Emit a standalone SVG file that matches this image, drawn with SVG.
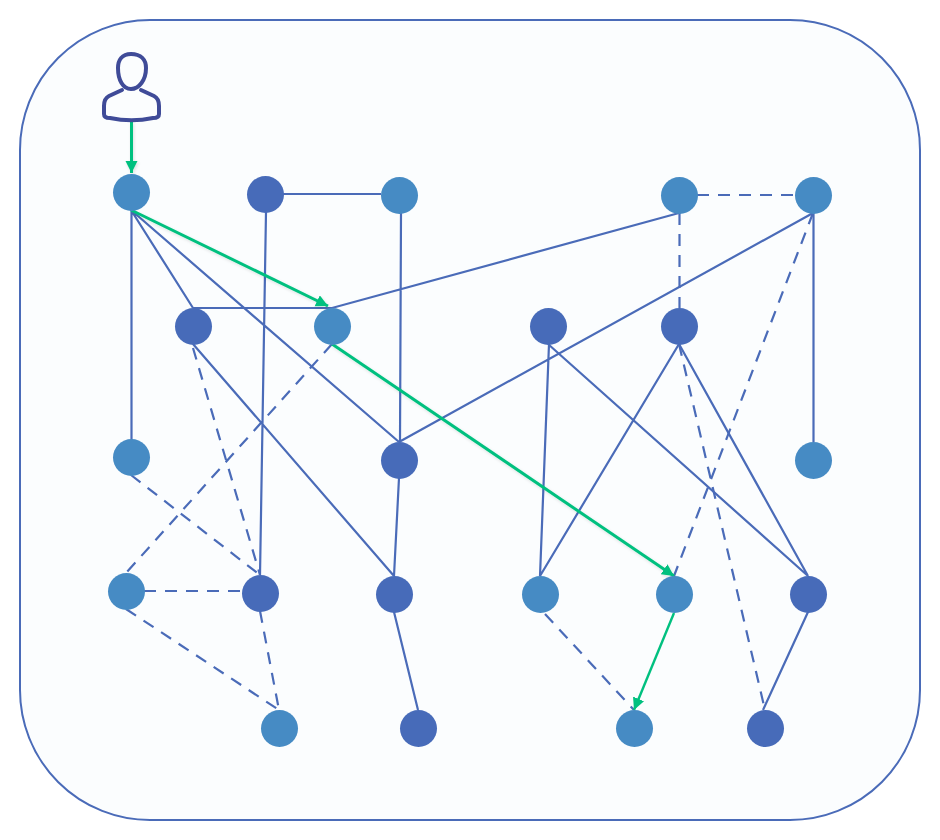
<svg xmlns="http://www.w3.org/2000/svg" width="940" height="840" viewBox="0 0 940 840">
<style>
.l{fill:#468bc4}.d{fill:#476bb9}
.s,.h,.g,.t{fill:none}
.s,.h{stroke:#4a6bb8;stroke-width:2.2}
.h{stroke-dasharray:12 9}
.g{stroke:#00c07f;stroke-width:3}
</style>
<defs>
<marker id="a" markerUnits="userSpaceOnUse" markerWidth="14" markerHeight="14" refX="12" refY="6" orient="auto"><path d="M0 0L12 6L0 12Z" fill="#00c07f"/></marker>
<filter id="sh" filterUnits="userSpaceOnUse" x="0" y="0" width="940" height="840"><feDropShadow dx="1" dy="1.500" stdDeviation="1.500" flood-color="#000" flood-opacity="0.120"/></filter>
</defs>
<rect id="frame" x="20" y="20" width="900" height="800" rx="130" ry="130" fill="#fbfdfe" stroke="#4a6bb8" stroke-width="2"/>
<g id="connectors">
<path class="s" d="M131.500 210V440M131 210L193 308M131 210L399 442M266 212L260 575M283 194H381M401 213L400 442M193 308H332L679 213M813 213L399 442M813.500 213V442M193 344L394 576M399 478L394 576M394 612L418 710M549 344L540 576M548 344L808 576M679 344L540 576M679 344L808 576M808 612L763 710"/>
<path class="h" d="M697 195H795"/>
<path class="h" d="M679.500 213V308"/>
<path class="h" d="M813 213L674 576"/>
<path class="h" d="M679 344L765 710"/>
<path class="h" d="M332 344L126 573"/>
<path class="h" d="M193 348L260 575"/>
<path class="h" d="M131 475L260 575"/>
<path class="h" d="M144 591H242"/>
<path class="h" d="M126 609L279 710"/>
<path class="h" d="M260 611L279 710"/>
<path class="h" d="M545 614L634 710"/>
<path class="g" filter="url(#sh)" marker-end="url(#a)" d="M131.500 122V173"/>
<path class="g" filter="url(#sh)" marker-end="url(#a)" d="M131 210L328 306"/>
<path class="g" filter="url(#sh)" marker-end="url(#a)" d="M332 344L674 576"/>
<path class="g" style="stroke-width:2.400" marker-end="url(#a)" d="M674 613L634 710"/>
</g>
<g id="user" fill="none" stroke="#3f4b98" stroke-width="4" stroke-linecap="round" stroke-linejoin="round">
<path d="M131 54C122 54 118 60 118 68C118 80 123 89 131 89C139 89 146 80 146 68C146 60 141 54 131 54Z"/>
<path d="M122 90L109 96C105 98 104 101 104 106V114C104 117 106 118 110 118C124 121 139 121 153 118C157 118 159 117 159 114V106C159 101 158 98 154 96L141 90"/>
</g>
<g id="n1"><circle class="l" cx="131.500" cy="192.500" r="18.500"/></g>
<g id="n2"><circle class="d" cx="265.500" cy="194.500" r="18.500"/></g>
<g id="n3"><circle class="l" cx="399.500" cy="195.500" r="18.500"/></g>
<g id="n4"><circle class="l" cx="679.500" cy="195.500" r="18.500"/></g>
<g id="n5"><circle class="l" cx="813.500" cy="195.500" r="18.500"/></g>
<g id="n6"><circle class="d" cx="193.500" cy="326.500" r="18.500"/></g>
<g id="n7"><circle class="l" cx="332.500" cy="326.500" r="18.500"/></g>
<g id="n8"><circle class="d" cx="548.500" cy="326.500" r="18.500"/></g>
<g id="n9"><circle class="d" cx="679.500" cy="326.500" r="18.500"/></g>
<g id="n10"><circle class="l" cx="131.500" cy="457.500" r="18.500"/></g>
<g id="n11"><circle class="d" cx="399.500" cy="460.500" r="18.500"/></g>
<g id="n12"><circle class="l" cx="813.500" cy="460.500" r="18.500"/></g>
<g id="n13"><circle class="l" cx="126.500" cy="591.500" r="18.500"/></g>
<g id="n14"><circle class="d" cx="260.500" cy="593.500" r="18.500"/></g>
<g id="n15"><circle class="d" cx="394.500" cy="594.500" r="18.500"/></g>
<g id="n16"><circle class="l" cx="540.500" cy="594.500" r="18.500"/></g>
<g id="n17"><circle class="l" cx="674.500" cy="594.500" r="18.500"/></g>
<g id="n18"><circle class="d" cx="808.500" cy="594.500" r="18.500"/></g>
<g id="n19"><circle class="l" cx="279.500" cy="728.500" r="18.500"/></g>
<g id="n20"><circle class="d" cx="418.500" cy="728.500" r="18.500"/></g>
<g id="n21"><circle class="l" cx="634.500" cy="728.500" r="18.500"/></g>
<g id="n22"><circle class="d" cx="765.500" cy="728.500" r="18.500"/></g>
</svg>
